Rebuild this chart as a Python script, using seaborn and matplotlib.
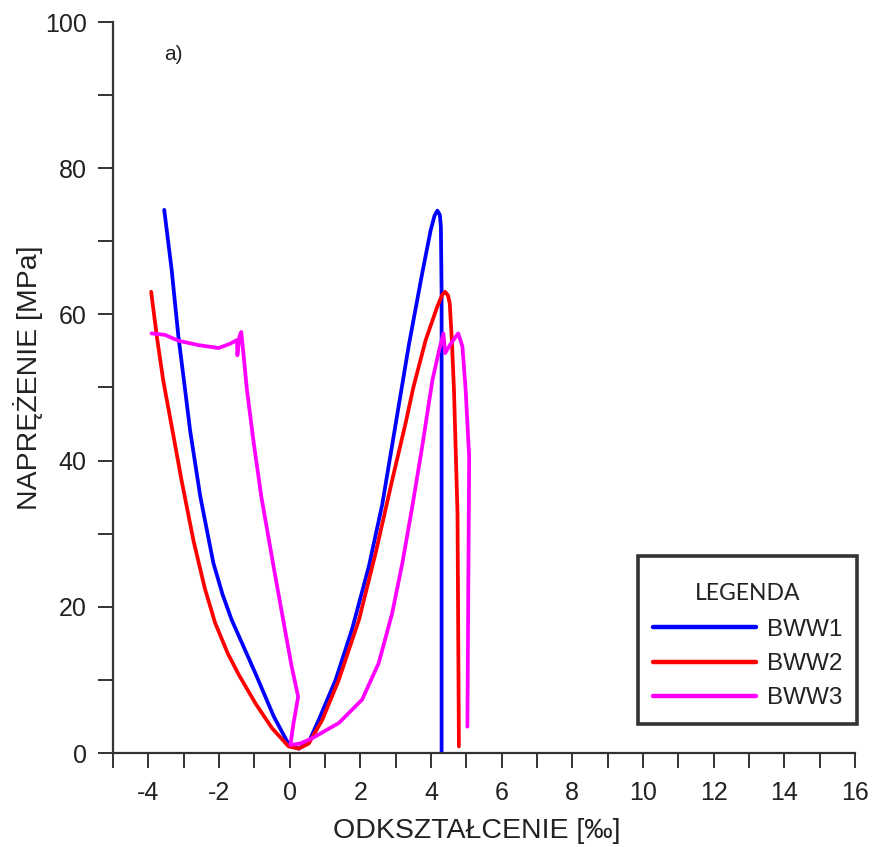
import matplotlib
matplotlib.use("Agg")
import matplotlib.pyplot as plt
import seaborn as sns
import pandas as pd
from matplotlib.ticker import MultipleLocator
from matplotlib import font_manager

# ---- data (strain [‰], stress [MPa]) ----
bww1_x = [-3.55, -3.34, -3.15, -2.96, -2.82, -2.53, -2.16, -1.90, -1.64, -0.97, -0.45, -0.03,
          0.26, 0.54, 0.82, 1.30, 1.77, 2.24, 2.62, 3.00, 3.38, 3.75, 3.99, 4.10, 4.18, 4.25,
          4.28, 4.30, 4.30]
bww1_y = [74.3, 66.1, 57.0, 49.7, 44.2, 35.1, 26.0, 21.7, 18.2, 10.9, 5.0, 1.2,
          0.6, 1.5, 4.5, 10.0, 17.0, 25.5, 34.0, 45.0, 56.0, 65.6, 71.5, 73.5, 74.2, 73.6,
          72.0, 63.0, 0.0]

bww2_x = [-3.92, -3.76, -3.58, -3.32, -3.06, -2.72, -2.40, -2.11, -1.75, -1.45, -0.97, -0.50,
          -0.03, 0.26, 0.54, 0.92, 1.39, 1.96, 2.43, 2.90, 3.28, 3.50, 3.85, 4.18, 4.32, 4.40,
          4.48, 4.53, 4.59, 4.65, 4.75, 4.79]
bww2_y = [63.1, 57.0, 51.0, 44.2, 37.3, 29.0, 22.5, 17.8, 13.6, 10.8, 6.8, 3.4,
          0.9, 0.6, 1.3, 4.5, 10.0, 18.2, 27.3, 37.3, 45.1, 50.0, 56.5, 61.1, 62.7, 63.1,
          62.6, 61.5, 56.5, 49.7, 32.8, 0.9]

bww3_x = [-3.91, -3.53, -3.15, -2.58, -2.01, -1.68, -1.49, -1.48, -1.42, -1.37, -1.30, -1.21,
          -1.02, -0.80, -0.40, 0.05, 0.24, 0.11, 0.02, 0.30, 0.63, 1.39, 2.05, 2.52, 2.90,
          3.19, 3.47, 3.75, 4.04, 4.23, 4.35, 4.40, 4.56, 4.77, 4.89, 4.98, 5.08, 5.03]
bww3_y = [57.4, 57.2, 56.4, 55.8, 55.4, 56.0, 56.5, 54.4, 57.0, 57.6, 54.2, 49.7,
          42.5, 35.0, 24.0, 12.0, 7.7, 4.1, 1.1, 1.3, 2.0, 4.1, 7.3, 12.3, 19.1,
          26.0, 33.7, 41.9, 51.0, 55.1, 57.4, 54.7, 56.0, 57.4, 55.6, 49.7, 40.5, 3.6]

series_names = ["BWW1", "BWW2", "BWW3"]
series_colors = ["#0000FF", "#FF0000", "#FF00FF"]
x_ticks = [-4, -2, 0, 2, 4, 6, 8, 10, 12, 14, 16]
y_ticks = [0, 20, 40, 60, 80, 100]

frames = []
for name, xs, ys in zip(series_names, [bww1_x, bww2_x, bww3_x], [bww1_y, bww2_y, bww3_y]):
    frames.append(pd.DataFrame({"strain": xs, "stress": ys, "series": name}))
df = pd.concat(frames, ignore_index=True)

sns.set_theme(style="white")
avail = {f.name for f in font_manager.fontManager.ttflist}
main_font = "Liberation Sans Narrow" if "Liberation Sans Narrow" in avail else "Liberation Sans"
plt.rcParams["font.family"] = [main_font, "DejaVu Sans"]
plt.rcParams["axes.unicode_minus"] = False

fig = plt.figure(figsize=(8.74, 8.47), dpi=100)
ax = fig.add_axes([113 / 874, 1 - 753 / 847, (855 - 113) / 874, (753 - 22) / 847])

sns.lineplot(data=df, x="strain", y="stress", hue="series", palette=series_colors,
             hue_order=series_names, sort=False, estimator=None,
             linewidth=2.7, ax=ax, legend=True)
for line in ax.get_lines():
    line.set_solid_capstyle("round")
    line.set_solid_joinstyle("round")

ax.set_xlim(-5, 16)
ax.set_ylim(0, 100)
ax.set_xticks(x_ticks)
ax.set_yticks(y_ticks)
ax.xaxis.set_minor_locator(MultipleLocator(1))
ax.yaxis.set_minor_locator(MultipleLocator(10))

for s in ["top", "right"]:
    ax.spines[s].set_visible(False)
for s in ["left", "bottom"]:
    ax.spines[s].set_color("#333333")
    ax.spines[s].set_linewidth(1.6)

ax.tick_params(which="both", direction="out", length=11, width=1.4, color="#333333",
               bottom=True, left=True)
ax.tick_params(axis="both", which="major", labelsize=18, labelcolor="#222222")
ax.tick_params(axis="y", which="major", pad=8)
ax.tick_params(axis="x", which="major", pad=9)

ax.set_xlabel("ODKSZTAŁCENIE [‰]", fontsize=20.5, color="#222222")
ax.set_ylabel("NAPRĘŻENIE [MPa]", fontsize=20.5, color="#222222")
ax.xaxis.set_label_coords(0.49, -0.089)
ax.yaxis.set_label_coords(-0.094, 0.513)

ax.text(-3.55, 95.5, "a)", fontsize=15, color="#222222", ha="left", va="center")

handles, labels = ax.get_legend_handles_labels()
leg = ax.legend(handles, labels, title="\nLEGENDA", loc="lower right",
                bbox_to_anchor=(1.0025, 0.040), frameon=True, fancybox=False,
                edgecolor="black", fontsize=17.5, title_fontsize=16.5,
                handlelength=4.25, handletextpad=0.45, borderpad=0.6,
                labelspacing=0.5, borderaxespad=0)
leg.get_frame().set_linewidth(2.6)
leg.get_title().set_family(["Lato", "DejaVu Sans"])
leg.get_title().set_color("#222222")
leg.get_title().set_linespacing(0.45)
leg._legend_box.sep = 11
for t in leg.get_texts():
    t.set_color("#222222")
for h in leg.get_lines():
    h.set_linewidth(3.2)

fig.savefig("out.png", dpi=100, facecolor="white")
